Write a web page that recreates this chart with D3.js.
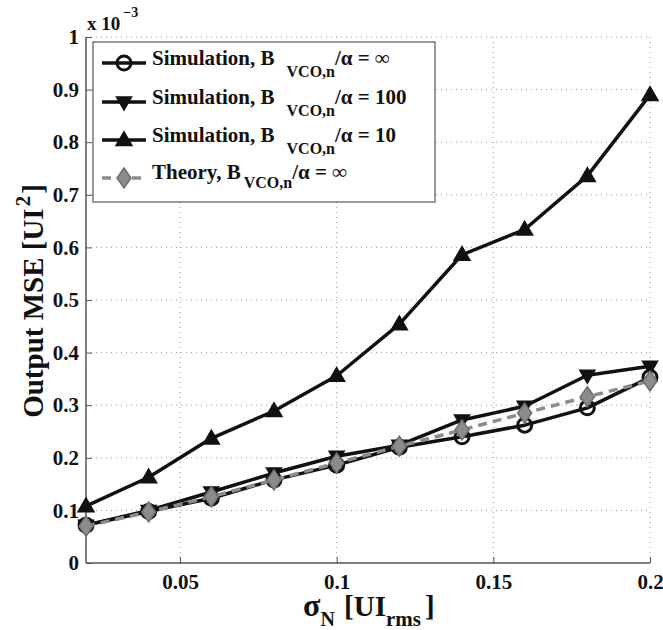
<!DOCTYPE html>
<html>
<head>
<meta charset="utf-8">
<script src="https://cdn.jsdelivr.net/npm/d3@7"></script>
<style>
  html, body { margin: 0; padding: 0; background: #fff; }
  svg text { font-family: "Liberation Serif", "Times New Roman", serif; font-weight: bold; fill: #111; }
</style>
</head>
<body>
<svg id="chart" width="663" height="630"></svg>
<script>
// Noise level sigma_N [UI rms]
const sigmaN = [0.02, 0.04, 0.06, 0.08, 0.10, 0.12, 0.14, 0.16, 0.18, 0.20];
// Output MSE values, in units of 1e-3 UI^2
const simInf  = [0.072, 0.098, 0.123, 0.158, 0.186, 0.220, 0.240, 0.262, 0.295, 0.353];
const sim100  = [0.072, 0.100, 0.135, 0.171, 0.203, 0.224, 0.272, 0.298, 0.357, 0.374];
const sim10   = [0.108, 0.163, 0.237, 0.289, 0.356, 0.454, 0.586, 0.634, 0.736, 0.890];
const theory  = [0.070, 0.097, 0.126, 0.158, 0.190, 0.222, 0.253, 0.285, 0.316, 0.346];

const xTicks = [0.05, 0.1, 0.15, 0.2];
const yTicks = [0, 0.1, 0.2, 0.3, 0.4, 0.5, 0.6, 0.7, 0.8, 0.9, 1];

const legendLabels = [
  { head: "Simulation, B", sub: "VCO,n", tail: "/α = ∞" },
  { head: "Simulation, B", sub: "VCO,n", tail: "/α = 100" },
  { head: "Simulation, B", sub: "VCO,n", tail: "/α = 10" },
  { head: "Theory, B", sub: "VCO,n", tail: "/α = ∞" }
];

const svg = d3.select("#chart");
const plotL = 86, plotR = 650, plotT = 37, plotB = 563;

const x = d3.scaleLinear().domain([0.02, 0.2]).range([plotL, plotR]);
const y = d3.scaleLinear().domain([0, 1]).range([plotB, plotT]);

// dotted grid
const grid = svg.append("g").attr("stroke", "#9a9a9a").attr("stroke-width", 1).attr("stroke-dasharray", "1,4");
xTicks.forEach(t => grid.append("line").attr("x1", x(t)).attr("x2", x(t)).attr("y1", plotT).attr("y2", plotB));
yTicks.filter(t => t > 0).forEach(t => grid.append("line").attr("x1", plotL).attr("x2", plotR).attr("y1", y(t)).attr("y2", y(t)));

// axes with inward ticks
const xAxis = svg.append("g").attr("transform", `translate(0,${plotB})`)
  .call(d3.axisBottom(x).tickValues(xTicks).tickSize(-6).tickPadding(11).tickFormat(d => String(+d.toFixed(2))));
const yAxis = svg.append("g").attr("transform", `translate(${plotL},0)`)
  .call(d3.axisLeft(y).tickValues(yTicks).tickSize(-6).tickPadding(7).tickFormat(d => String(+d.toFixed(1))));
[xAxis, yAxis].forEach(a => {
  a.select(".domain").attr("stroke", "#555").attr("stroke-width", 1.5);
  a.selectAll(".tick line").attr("stroke", "#555").attr("stroke-width", 1);
  a.selectAll(".tick text").attr("font-size", 21).attr("font-family", "Liberation Serif").attr("font-weight", "bold").attr("fill", "#111");
});
xAxis.select(".domain").attr("d", `M${plotL},0H${plotR}`);
yAxis.select(".domain").attr("d", `M0,${plotB}V${plotT}`);

// exponent label
const ex = svg.append("text").attr("x", 87).attr("y", 30).attr("font-size", 19);
ex.append("tspan").text("x 10");
ex.append("tspan").attr("dy", -13).attr("dx", 3).attr("font-size", 14).text("−3");

// axis titles
const yt = svg.append("text").attr("transform", "translate(43,301) rotate(-90)").attr("text-anchor", "middle").attr("font-size", 29);
yt.append("tspan").text("Output MSE [UI");
yt.append("tspan").attr("dy", -13).attr("dx", 2).attr("font-size", 21).text("2");
yt.append("tspan").attr("dy", 13).attr("dx", 2).text("]");

const xt = svg.append("text").attr("x", 303).attr("y", 616).attr("font-size", 29);
xt.append("tspan").attr("font-size", 32).text("σ");
xt.append("tspan").attr("dy", 10).attr("font-size", 20).text("N");
xt.append("tspan").attr("dy", -10).attr("dx", 2).text(" [UI");
xt.append("tspan").attr("dy", 10).attr("font-size", 21).text("rms");
xt.append("tspan").attr("dy", -10).attr("dx", 4).text("]");

// series
const line = d3.line().x((d, i) => x(sigmaN[i])).y(d => y(d));
const triUp = d3.symbol().type(d3.symbolTriangle).size(110);
const triDown = "M-7.5,-5L7.5,-5L0,8Z";
const diamond = "M0,-10L7,0L0,10L-7,0Z";

function drawSeries(values, opts) {
  const g = svg.append("g");
  g.append("path").datum(values).attr("d", line).attr("fill", "none")
    .attr("stroke", opts.color).attr("stroke-width", 3.5)
    .attr("stroke-dasharray", opts.dash || null).attr("stroke-linejoin", "round");
  const m = g.selectAll("g.m").data(values).join("g")
    .attr("transform", (d, i) => `translate(${x(sigmaN[i])},${y(d)})`);
  opts.marker(m);
}

drawSeries(simInf, { color: "#111", marker: m => m.append("circle").attr("r", 7).attr("fill", "none").attr("stroke", "#111").attr("stroke-width", 3) });
drawSeries(sim100, { color: "#111", marker: m => m.append("path").attr("d", triDown).attr("fill", "#111").attr("stroke", "#111").attr("stroke-width", 1.5) });
drawSeries(sim10, { color: "#111", marker: m => m.append("path").attr("d", triUp).attr("transform", "translate(0,1)").attr("fill", "#111").attr("stroke", "#111").attr("stroke-width", 1.5) });
drawSeries(theory, { color: "#8c8c8c", dash: "9,6", marker: m => m.append("path").attr("d", diamond).attr("fill", "#8c8c8c").attr("stroke", "#6e6e6e").attr("stroke-width", 1.5) });

// legend
const lg = svg.append("g");
lg.append("rect").attr("x", 93).attr("y", 42).attr("width", 342).attr("height", 160)
  .attr("fill", "#fff").attr("stroke", "#555").attr("stroke-width", 1.2);
const rowY = [63, 102, 140, 178];
const sampleMarkers = [
  g => g.append("circle").attr("r", 7).attr("fill", "none").attr("stroke", "#111").attr("stroke-width", 3),
  g => g.append("path").attr("d", triDown).attr("fill", "#111").attr("stroke", "#111").attr("stroke-width", 1.5),
  g => g.append("path").attr("d", triUp).attr("transform", "translate(0,1)").attr("fill", "#111").attr("stroke", "#111").attr("stroke-width", 1.5),
  g => g.append("path").attr("d", diamond).attr("fill", "#8c8c8c").attr("stroke", "#6e6e6e").attr("stroke-width", 1.5)
];
legendLabels.forEach((lab, i) => {
  const cy = rowY[i];
  const isTheory = i === 3;
  lg.append("line").attr("x1", 102).attr("x2", 146).attr("y1", cy).attr("y2", cy)
    .attr("stroke", isTheory ? "#8c8c8c" : "#111").attr("stroke-width", 3.5)
    .attr("stroke-dasharray", isTheory ? "9,6" : null);
  sampleMarkers[i](lg.append("g").attr("transform", `translate(124,${cy})`));
  const t = lg.append("text").attr("x", 152).attr("y", cy + (isTheory ? 1 : 2)).attr("font-size", 21);
  t.append("tspan").text(lab.head);
  const drop = isTheory ? 9 : 12;
  t.append("tspan").attr("dx", isTheory ? 3 : 12).attr("dy", drop).attr("font-size", 16).text(lab.sub);
  t.append("tspan").attr("dy", -drop).text(lab.tail);
});
</script>
</body>
</html>
